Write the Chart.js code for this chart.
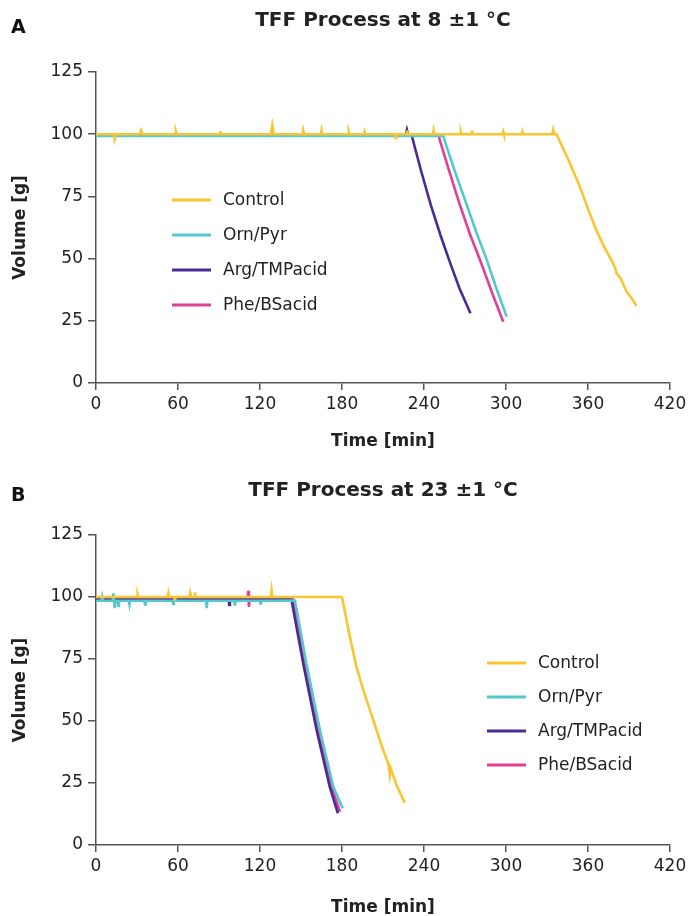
<!DOCTYPE html>
<html lang="en">
<head>
    <meta charset="UTF-8">
    <title>TFF Process</title>
    <style>
        body {
            margin: 0;
            background: #fff;
            font-family: 'DejaVu Sans', sans-serif;
        }
        canvas {
            display: block;
        }
    </style>
    <script src="https://cdn.jsdelivr.net/npm/chart.js"></script>
</head>
<body>
    <canvas id="chartA" width="691" height="458"></canvas>
    <canvas id="chartB" width="691" height="458"></canvas>
    <script>
        // axis ticks
        const timeTicks = [0, 60, 120, 180, 240, 300, 360, 420];
        const volumeTicks = [0, 25, 50, 75, 100, 125];

        const seriesNames = ['Control', 'Orn/Pyr', 'Arg/TMPacid', 'Phe/BSacid'];
        const seriesColors = ['#F9C530', '#52C9CD', '#4A2B93', '#E23F97'];

        // Panel A: 8 ±1 °C
        const aControlT = [0, 13, 13.6, 14.5, 32, 33, 34, 58, 58.5, 59, 90, 91, 92, 128, 129, 130, 151, 151.5, 152, 164.5, 165, 165.5,
            184.5, 185, 185.5, 196, 196.5, 197, 218.5, 219, 219.5, 227, 227.5, 228, 246.5, 247, 247.5, 266.5, 267, 267.5,
            274.5, 275, 275.5, 297.5, 298, 298.5, 311.5, 312, 312.5, 334, 334.5, 335, 337,
            345, 354, 360, 366, 372, 378.5, 380, 381, 384, 388, 392, 395.5];
        const aControlV = [100, 100, 98, 100, 100, 101.5, 100, 100, 101, 100, 100, 100.8, 100, 100, 103.5, 100, 100, 101.5, 100, 100, 101.5, 100,
            100, 101, 100, 100, 101, 100, 100, 98.5, 100, 100, 101.5, 100, 100, 101.5, 100, 100, 101, 100,
            100, 101.5, 100, 100, 101, 100, 100, 101, 100, 100, 101.5, 100, 100,
            90.5, 79, 70, 61.5, 54.5, 48, 46, 44, 42, 37, 34, 31];
        const aOrnT = [0, 254, 262, 271, 278, 286, 293, 300.5];
        const aOrnV = [99.3, 99.3, 86, 72, 61, 49.4, 38, 26.7];
        const aArgT = [0, 226.5, 227.5, 228.5, 231, 238, 245, 252, 259, 266, 274];
        const aArgV = [99.5, 99.5, 101.8, 99.5, 99.5, 85, 71.5, 59.5, 48.5, 38, 28];
        const aPheT = [0, 250.5, 258, 266, 273.5, 281, 290, 298];
        const aPheV = [99.6, 99.6, 86, 72, 60, 49.4, 36, 24.6];

        // Panel B: 23 ±1 °C
        const bControlT = [0, 30, 30.5, 31, 52.5, 53, 53.5, 57.2, 57.7, 58.2, 68.3, 68.8, 69.3, 71.9, 72.4, 72.9, 128, 128.5, 129,
            180, 185, 190.7, 197, 202.9, 209, 214, 215, 215.5, 220, 226];
        const bControlV = [100, 100, 101, 100, 100, 101.5, 100, 100, 98.5, 100, 100, 101.5, 100, 100, 101.8, 100, 100, 102.5, 100,
            100, 86, 71.5, 60, 50.4, 40, 32.5, 28.5, 31, 24, 17];
        const bOrnT = [0, 4, 4.5, 5, 12.2, 12.7, 13.2, 13.7, 14.2, 15.8, 16.3, 16.8, 24, 24.5, 25, 35.4, 35.9, 36.4, 56, 56.5, 57,
            80.5, 81, 81.5, 101.1, 101.6, 102.1, 120, 120.5, 121, 145.6, 154, 164, 173.6, 180.5];
        const bOrnV = [98.5, 98.5, 100, 98.5, 98.5, 101.5, 98.5, 95.5, 98.5, 98.5, 96.5, 98.5, 98.5, 97, 98.5, 98.5, 97, 98.5, 98.5, 97.2, 98.5,
            98.5, 95.5, 98.5, 98.5, 96.5, 98.5, 98.5, 97, 98.5, 98.6, 73, 46, 23.5, 14.8];
        const bArgT = [0, 97, 97.5, 98, 143, 151.7, 161.4, 171, 177];
        const bArgV = [99, 99, 96.8, 99, 99, 73, 46.4, 23.5, 12.8];
        const bPheT = [0, 110.9, 111.4, 111.9, 112.4, 144, 153, 162.6, 172.3, 178.5];
        const bPheV = [99.3, 99.3, 102.5, 96, 99.3, 99.3, 73, 46, 23.5, 13.4];

        function pts(ts, vs) {
            return ts.map((t, i) => ({ x: t, y: vs[i] }));
        }

        // legend drawn inside the plot area
        const insideLegend = {
            id: 'insideLegend',
            afterDraw(chart, args, opts) {
                const ctx = chart.ctx;
                const area = chart.chartArea;
                ctx.save();
                ctx.font = '17px "DejaVu Sans", sans-serif';
                ctx.textBaseline = 'middle';
                chart.data.datasets.forEach((ds, i) => {
                    const x = area.left + opts.dx;
                    const y = area.top + opts.dy + i * opts.gap;
                    ctx.strokeStyle = ds.borderColor;
                    ctx.lineWidth = 3;
                    ctx.beginPath();
                    ctx.moveTo(x, y);
                    ctx.lineTo(x + 39, y);
                    ctx.stroke();
                    ctx.fillStyle = '#222';
                    ctx.fillText(ds.label, x + 51, y + 1);
                });
                ctx.restore();
            }
        };

        // panel letter (A / B)
        const panelLetter = {
            id: 'panelLetter',
            afterDraw(chart, args, opts) {
                const ctx = chart.ctx;
                ctx.save();
                ctx.font = 'bold 19px "DejaVu Sans", sans-serif';
                ctx.fillStyle = '#111';
                ctx.textBaseline = 'middle';
                ctx.fillText(opts.text, 11, opts.y);
                ctx.restore();
            }
        };

        function makeChart(id, title, series, p) {
            const datasets = series.map((s, i) => ({
                label: seriesNames[i],
                data: s,
                borderColor: seriesColors[i],
                backgroundColor: seriesColors[i],
                borderWidth: 2.6,
                pointRadius: 0,
                tension: 0,
                fill: false
            }));
            return new Chart(document.getElementById(id), {
                type: 'line',
                data: { datasets: datasets },
                options: {
                    responsive: false,
                    animation: false,
                    layout: { padding: { left: 0, right: 21, top: 0, bottom: 0 } },
                    plugins: {
                        legend: { display: false },
                        tooltip: { enabled: false },
                        title: {
                            display: true,
                            text: title,
                            fullSize: false,
                            color: '#222',
                            font: { family: 'DejaVu Sans', size: 20, weight: 'bold' },
                            padding: { top: p.titleTop, bottom: p.titleBottom }
                        },
                        insideLegend: p.legend,
                        panelLetter: { text: p.letter, y: p.letterY }
                    },
                    scales: {
                        x: {
                            type: 'linear',
                            min: 0,
                            max: 420,
                            afterBuildTicks: s => { s.ticks = timeTicks.map(v => ({ value: v })); },
                            afterFit: s => { s.height = p.xHeight; },
                            grid: { display: true, drawOnChartArea: false, drawTicks: true, tickLength: 7, color: '#555', lineWidth: 1.5 },
                            border: { display: true, color: '#555', width: 1.5 },
                            ticks: { color: '#222', padding: 4, maxRotation: 0, font: { family: 'DejaVu Sans', size: 17 } },
                            title: {
                                display: true,
                                text: 'Time [min]',
                                color: '#222',
                                font: { family: 'DejaVu Sans', size: 17, weight: 'bold' },
                                padding: { top: 4, bottom: p.xTitleBottom }
                            }
                        },
                        y: {
                            min: 0,
                            max: 125,
                            afterBuildTicks: s => { s.ticks = volumeTicks.map(v => ({ value: v })); },
                            afterFit: s => { s.width = 96; },
                            grid: { display: true, drawOnChartArea: false, drawTicks: true, tickLength: 8, color: '#555', lineWidth: 1.5 },
                            border: { display: true, color: '#555', width: 1.5 },
                            ticks: { color: '#222', padding: 5, font: { family: 'DejaVu Sans', size: 17 } },
                            title: {
                                display: true,
                                text: 'Volume [g]',
                                color: '#222',
                                font: { family: 'DejaVu Sans', size: 17, weight: 'bold' },
                                padding: { top: 10, bottom: 0 }
                            }
                        }
                    }
                },
                plugins: [insideLegend, panelLetter]
            });
        }

        makeChart('chartA', 'TFF Process at 8 \u00b11 \u00b0C',
            [pts(aControlT, aControlV), pts(aOrnT, aOrnV), pts(aArgT, aArgV), pts(aPheT, aPheV)],
            { titleTop: 9, titleBottom: 39, xHeight: 75, xTitleBottom: 6, letter: 'A', letterY: 28,
              legend: { dx: 76, dy: 128, gap: 35 } });

        makeChart('chartB', 'TFF Process at 23 \u00b11 \u00b0C',
            [pts(bControlT, bControlV), pts(bOrnT, bOrnV), pts(bArgT, bArgV), pts(bPheT, bPheV)],
            { titleTop: 21, titleBottom: 32, xHeight: 71, xTitleBottom: -2, letter: 'B', letterY: 38,
              legend: { dx: 391, dy: 128, gap: 34 } });
    </script>
</body>
</html>
